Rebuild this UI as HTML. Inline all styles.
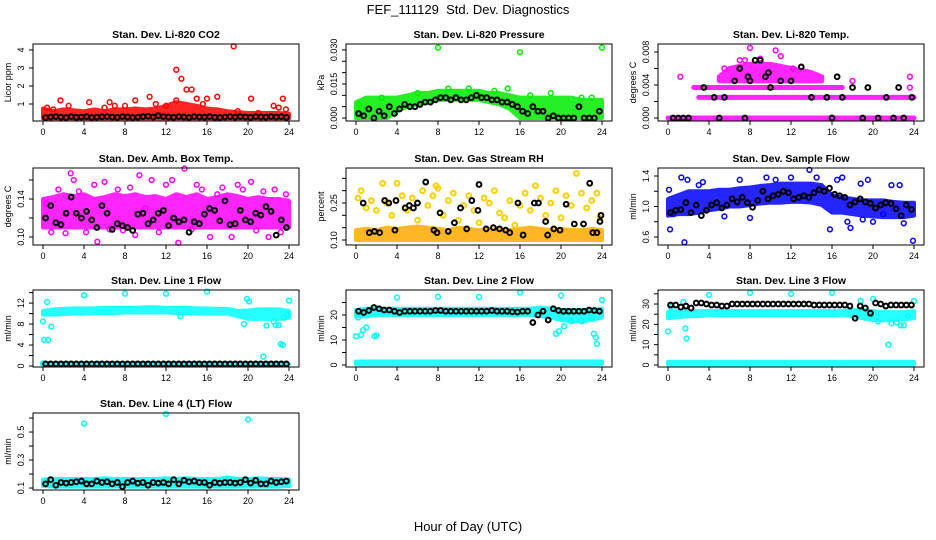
<!DOCTYPE html>
<html><head><meta charset="utf-8">
<style>
html,body{margin:0;padding:0;background:#fff;}
svg{display:block;font-family:"Liberation Sans",Arial,sans-serif;}
</style></head>
<body>
<svg id="chart" width="936" height="540" viewBox="0 0 936 540">
<text x="468" y="14" text-anchor="middle" font-size="13">FEF_111129&#160; Std. Dev. Diagnostics</text>
<text x="468" y="531" text-anchor="middle" font-size="13">Hour of Day (UTC)</text>
</svg>
<script>
// ---------- shared data ----------
const HOURS=[0,1,2,3,4,5,6,7,8,9,10,11,12,13,14,15,16,17,18,19,20,21,22,23,24];
const HALF=[0.25,0.75,1.25,1.75,2.25,2.75,3.25,3.75,4.25,4.75,5.25,5.75,6.25,6.75,7.25,7.75,8.25,8.75,9.25,9.75,10.25,10.75,11.25,11.75,12.25,12.75,13.25,13.75,14.25,14.75,15.25,15.75,16.25,16.75,17.25,17.75,18.25,18.75,19.25,19.75,20.25,20.75,21.25,21.75,22.25,22.75,23.25,23.75];
const xTickValues=[0,4,8,12,16,20,24];
const xTickLabels=["0","4","8","12","16","20","24"];

// P1 CO2
const co2Lo=[0.2,0.2,0.2,0.2,0.2,0.2,0.2,0.2,0.2,0.2,0.2,0.2,0.2,0.2,0.2,0.2,0.2,0.2,0.2,0.2,0.2,0.2,0.2,0.2,0.2];
const co2Hi=[0.75,0.6,0.7,0.65,0.6,0.7,0.6,0.7,0.7,0.75,0.7,0.75,0.9,1.1,1.0,0.9,0.75,0.7,0.6,0.55,0.5,0.5,0.5,0.5,0.45];
const co2RedX=[0.4,1.0,1.7,2.5,4.5,6,6.5,7,8,9,10.4,11,12,13,13.5,13,14,14.5,15,15.6,16,17,18.6,19,20.3,21,22.5,23,23.4,23.7];
const co2RedY=[0.8,0.7,1.2,0.9,1.1,0.8,1.1,0.9,0.9,1.2,1.4,1.0,0.9,2.9,2.4,1.2,1.8,1.8,1.3,1.0,1.3,1.4,4.2,0.6,1.3,0.5,0.9,0.8,1.3,0.7];
const co2Black=[0.25,0.28,0.3,0.27,0.25,0.3,0.26,0.28,0.3,0.25,0.27,0.29,0.3,0.28,0.26,0.3,0.28,0.25,0.27,0.3,0.32,0.28,0.35,0.3,0.28,0.26,0.3,0.28,0.25,0.3,0.28,0.27,0.3,0.26,0.25,0.28,0.3,0.27,0.3,0.28,0.26,0.3,0.28,0.27,0.3,0.28,0.3,0.26];
const co2Ticks=[1,2,3,4];

// P2 Pressure
const pressLo=[0.000,0.000,0.000,0.000,0.003,0.005,0.006,0.007,0.008,0.008,0.008,0.008,0.008,0.007,0.006,0.004,0.000,0.000,0.000,0.000,0.000,0.000,0.000,0.000,0.000];
const pressHi=[0.007,0.009,0.009,0.009,0.009,0.010,0.011,0.011,0.012,0.012,0.012,0.012,0.012,0.011,0.011,0.010,0.009,0.009,0.009,0.009,0.009,0.009,0.008,0.008,0.008];
const pressGreenX=[8,16,24,0.3,1,2.5,6,9,11,13.5,14.8,17,19,22,23];
const pressGreenY=[0.031,0.029,0.031,0.006,0.004,0.009,0.011,0.013,0.013,0.012,0.013,0.010,0.011,0.009,0.009];
const pressBlack=[0.002,0.001,0.004,0.000,0.003,0.001,0.005,0.002,0.004,0.006,0.005,0.005,0.006,0.007,0.007,0.008,0.009,0.009,0.008,0.009,0.008,0.008,0.009,0.010,0.009,0.009,0.008,0.008,0.007,0.007,0.006,0.005,0.003,0.002,0.005,0.003,0.003,0.000,0.001,0.000,0.000,0.000,0.000,0.005,0.000,0.000,0.000,0.003];
const pressTicks=[0,0.005,0.010,0.015,0.020,0.025,0.030];
const pressTickLabels=["0.000","","","0.015","","","0.030"];

// P3 Temp
const tempRow0X=[0,24], tempRow0Y=[0,0];
const tempRow1X=[3,24], tempRow1Y=[0.0025,0.0025];
const tempRow2X=[2.5,17], tempRow2Y=[0.0037,0.0037];
const tempCloudX=[5,6,8,10,12,14,15];
const tempCloudLo=[0.0045,0.0045,0.0045,0.0045,0.0045,0.0045,0.0045];
const tempCloudHi=[0.005,0.006,0.0065,0.0065,0.006,0.0055,0.005];
const tempMagX=[1.2,5.5,7,7.5,8,9,10.5,11,12.2,18,23.6,23.6,17];
const tempMagY=[0.005,0.006,0.007,0.007,0.0085,0.0072,0.0082,0.0075,0.006,0.0045,0.005,0.0037,0.0025];
const tempBlackX=[0.5,1,1.5,2,3.5,4.5,5,5.5,6.5,7,7.5,7.8,8,8.5,9,9.5,9.8,10,11,12,13,14,15.5,16,16.5,17,18,19,19.5,20.5,21.3,22,22.5,23,23.8];
const tempBlackY=[0,0,0,0,0.0037,0.0025,0,0.0025,0.0045,0.006,0,0.005,0.0045,0.007,0.007,0.005,0.0055,0.0037,0.0045,0.0045,0.0062,0.0025,0.0025,0,0.005,0.0025,0.0037,0,0.0037,0,0.0025,0,0.0037,0,0.0025];
const tempTicks=[0,0.002,0.004,0.006,0.008];
const tempTickLabels=["0.000","","0.004","","0.008"];

// P4 Amb box
const ambLo=[0.11,0.11,0.11,0.11,0.11,0.11,0.11,0.11,0.11,0.11,0.11,0.11,0.11,0.11,0.11,0.11,0.11,0.11,0.11,0.11,0.11,0.11,0.11,0.11,0.11];
const ambHi=[0.14,0.142,0.145,0.143,0.145,0.14,0.142,0.145,0.143,0.145,0.142,0.143,0.14,0.145,0.142,0.145,0.14,0.142,0.145,0.143,0.14,0.142,0.14,0.14,0.138];
const ambMagX=[0.3,0.8,1.5,2.2,2.7,3,3.5,4.2,5,5.3,6,6.5,7.3,7.8,8.5,9,9.4,10,10.6,11.3,12,12.6,13.2,13.8,14.5,15,15.5,16.3,17,17.5,18.4,19,19.5,20.3,20.8,21.5,22,22.6,23.2,23.7];
const ambMagY=[0.135,0.105,0.15,0.104,0.167,0.16,0.148,0.105,0.155,0.095,0.158,0.108,0.15,0.107,0.152,0.102,0.165,0.13,0.16,0.105,0.155,0.16,0.094,0.172,0.108,0.155,0.15,0.1,0.145,0.152,0.1,0.155,0.15,0.158,0.107,0.148,0.1,0.15,0.105,0.145];
const ambBlack=[0.12,0.133,0.115,0.113,0.125,0.142,0.125,0.12,0.127,0.118,0.11,0.133,0.125,0.108,0.114,0.112,0.11,0.107,0.124,0.125,0.114,0.118,0.125,0.128,0.112,0.12,0.116,0.118,0.105,0.116,0.114,0.124,0.13,0.128,0.117,0.138,0.113,0.114,0.128,0.118,0.116,0.125,0.123,0.132,0.127,0.102,0.118,0.11];
const ambTicks=[0.10,0.12,0.14,0.16];
const ambTickLabels=["0.10","","0.14",""];

// P5 RH
const rhLo=[0.10,0.10,0.10,0.10,0.10,0.10,0.10,0.10,0.10,0.10,0.10,0.10,0.10,0.10,0.10,0.10,0.10,0.10,0.10,0.10,0.10,0.10,0.10,0.10,0.10];
const rhHi=[0.14,0.145,0.14,0.15,0.145,0.15,0.155,0.15,0.145,0.14,0.15,0.145,0.14,0.145,0.14,0.14,0.145,0.15,0.145,0.14,0.145,0.14,0.14,0.145,0.14];
const rhYelX=[0.2,0.5,1,1.5,2,2.6,3,3.5,4,4.5,5,5.5,6,6.5,7,7.5,8,8.5,9,9.5,10,10.5,11,11.5,12,12.5,13,13.5,14,14.5,15,15.5,16,16.5,17,17.5,18,18.5,19,19.5,20,20.5,21,21.5,22,22.5,23,23.5,23.8,7.8];
const rhYelY=[0.27,0.3,0.23,0.26,0.22,0.33,0.25,0.2,0.33,0.28,0.22,0.27,0.18,0.3,0.24,0.28,0.31,0.2,0.26,0.29,0.18,0.24,0.28,0.22,0.17,0.27,0.25,0.3,0.21,0.19,0.26,0.16,0.24,0.29,0.22,0.32,0.27,0.2,0.25,0.3,0.19,0.28,0.24,0.37,0.29,0.23,0.26,0.29,0.19,0.32];
const rhBlackX=[0.7,1.3,1.8,2.3,2.8,3.2,3.8,3.9,4.8,5.2,5.6,6,6.8,7.6,7.9,8.2,9,9.6,10.2,10.8,11.3,11.9,12,12.7,13.4,14,14.6,15,15.8,16.3,17.4,17.8,18.5,18.7,19.3,19.9,20.5,21.3,22.2,22.8,23.1,23.5,23.8,23.9];
const rhBlackY=[0.25,0.13,0.135,0.13,0.26,0.25,0.14,0.26,0.23,0.24,0.23,0.25,0.335,0.14,0.13,0.21,0.135,0.17,0.23,0.145,0.26,0.22,0.325,0.145,0.15,0.145,0.14,0.13,0.25,0.12,0.25,0.25,0.175,0.12,0.145,0.14,0.245,0.165,0.165,0.33,0.13,0.13,0.175,0.2];
const rhTicks=[0.10,0.15,0.20,0.25,0.30,0.35];
const rhTickLabels=["0.10","","","0.25","",""];

// P6 Sample flow
const flowLo=[0.88,0.9,0.9,0.92,0.95,0.97,1.0,1.0,1.02,1.04,1.05,1.05,1.06,1.06,1.05,1.02,0.92,0.92,0.9,0.88,0.87,0.86,0.86,0.86,0.88];
const flowHi=[1.1,1.15,1.2,1.2,1.2,1.22,1.22,1.24,1.25,1.27,1.28,1.3,1.3,1.3,1.3,1.28,1.15,1.12,1.1,1.08,1.08,1.08,1.06,1.05,1.05];
const flowBlueX=[0.1,0.2,0.5,1.3,1.6,1.9,3,3.4,5.5,7,8,9.6,10.5,12,13.8,14.5,15.8,16.5,17,17.5,17.8,18.8,19.5,20,21.8,22.6,23,23.9,21,19];
const flowBlueY=[1.22,0.7,0.9,1.38,0.53,1.35,1.28,1.32,0.87,1.35,0.85,1.38,1.35,1.38,1.48,1.38,0.7,1.35,1.38,0.8,0.72,1.3,1.35,0.8,1.28,1.28,0.78,0.55,0.9,0.83];
const flowBlack=[0.92,0.95,0.96,1.05,0.92,1.02,0.88,0.95,1.02,1.05,0.98,1.02,1.1,1.06,1.12,1.05,0.99,1.08,1.2,1.1,1.14,1.16,1.2,1.18,1.1,1.12,1.14,1.12,1.18,1.22,1.2,1.24,1.16,1.14,1.12,1.02,1.06,1.1,1.06,1.04,0.98,1.02,1.05,1.04,0.97,0.88,1.02,0.96];
const flowTicks=[0.6,0.8,1.0,1.2,1.4];
const flowTickLabels=["0.6","","1.0","","1.4"];

// P7 Line 1
const l1Lo=[9.8,9.8,9.9,10,10,10.1,10.1,10.1,10.2,10.2,10.2,10.2,10.2,10.1,10.1,10,10,10,10,9.5,9,9,9,9,9.2];
const l1Hi=[10.5,10.8,10.9,11,11,11,11.1,11.1,11.1,11.1,11.2,11.2,11.1,11.1,11.1,11,11,10.9,10.9,10.5,10.6,10.8,10.8,10.8,10.5];
const l1ZeroX=[0,24], l1ZeroY=[0.3,0.3];
const l1CyanX=[0,0.1,0.4,0.5,0.8,4,8,12,13.4,16,19.6,19.9,20.1,21.5,21.8,22.5,22.7,23,23.2,23.4,23.5,23.8,24,0];
const l1CyanY=[8.5,5,12.2,5,7.5,13.5,13.8,13.8,9.5,14.2,8,12.8,12.3,1.8,7.7,8.5,7.8,7.8,4.2,4,9.2,9.8,12.5,0.5];
const l1Black=[0.4,0.4,0.4,0.4,0.4,0.4,0.4,0.4,0.4,0.4,0.4,0.4,0.4,0.4,0.4,0.4,0.4,0.4,0.4,0.4,0.4,0.4,0.4,0.4,0.4,0.4,0.4,0.4,0.4,0.4,0.4,0.4,0.4,0.4,0.4,0.4,0.4,0.4,0.4,0.4,0.4,0.4,0.4,0.4,0.4,0.4,0.4,0.4];
const l1Ticks=[0,2,4,6,8,10,12,14];
const l1TickLabels=["0","","4","","8","","12",""];

// P8 Line 2
const l2Lo=[19.5,19.5,20,20,20,20,20,20,20,20,20,20,20,20,20,20,20,20,19.5,19,18,17.5,17.5,18,19];
const l2Hi=[22,22.5,22.5,22.5,22.5,22.5,22.5,22.5,22.5,22.5,22.5,22.5,22.5,22.5,22.5,22.5,22.5,22.5,23,22.5,22,22,22,22,22.5];
const l2ZeroX=[0,24], l2ZeroLo=[0.3,0.3], l2ZeroHi=[1.4,1.4];
const l2CyanX=[0,0.2,0.5,0.7,1,1.8,2,4,8,12,16,19.5,19.8,20,20.3,21,22,23,23.2,23.4,23.5,24];
const l2CyanY=[11.5,19,12,14,15,11.5,11.8,27,27.3,27.2,29,12.5,13.5,27.8,15.5,17.5,17.5,19,12.5,11,8.5,26];
const l2Black=[21.5,21,21.8,23,22.5,22,22,21.5,21,21.5,21.5,21.5,21.5,21.5,21.5,21.8,21.8,21.5,21.5,21.5,21.5,21.5,21.5,21.5,21.5,21.5,21.8,21.5,21.5,21.5,21.3,21.2,21.5,21.5,17,20,21.5,18,22.5,21.8,21.5,21.5,21.5,21.5,21.5,22,21.8,21.5];
const l2Ticks=[0,5,10,15,20,25];
const l2TickLabels=["0","","10","","20",""];

// P9 Line 3
const l3Lo=[23,23.5,24,24,24.5,24.5,24.5,24.5,24.5,24.5,24.5,24.5,24.5,24.5,24.5,24.5,24.5,24.5,24,23,22,22,22,22.5,23];
const l3Hi=[26,26.5,26.5,26.5,26.5,26.5,26.5,26.5,26.5,26.5,26.5,26.5,26.5,26.5,26.5,26.5,26.5,26.5,27,27,26.5,26,26,26,26.5];
const l3ZeroX=[0,24], l3ZeroLo=[0.3,0.3], l3ZeroHi=[1.5,1.5];
const l3CyanX=[0,0.3,1.5,1.7,1.8,4,8,12,16,18.8,20,20.5,21.5,21.8,22.3,22.7,23,23.4,24,19.8];
const l3CyanY=[16.5,28.5,31,18,13,34.5,35.5,35,35.5,31.5,32.5,21.5,10,20.5,21,19.5,19.5,24,31.5,25];
const l3Black=[29.5,29.5,28.5,29,28,30.5,30.5,30,29.5,29.5,29,29,30,30,30,30,30,30,30,30,30,30,30,30,30,30,30,30,29.5,29.5,29.5,29.5,29.5,29.5,29.5,29,23,29,28,25.5,30.5,30,29,29.5,29.5,29.5,29.5,29.5];
const l3Ticks=[0,5,10,15,20,25,30,35];
const l3TickLabels=["0","","10","","20","","30",""];

// P10 Line 4
const l4Lo=[0.115,0.11,0.11,0.11,0.11,0.11,0.11,0.11,0.11,0.11,0.11,0.11,0.11,0.11,0.11,0.11,0.11,0.11,0.11,0.11,0.11,0.11,0.11,0.11,0.115];
const l4Hi=[0.16,0.165,0.165,0.165,0.165,0.165,0.17,0.165,0.165,0.165,0.165,0.165,0.17,0.165,0.17,0.165,0.165,0.165,0.175,0.165,0.165,0.17,0.165,0.165,0.16];
const l4CyanX=[4,12,20];
const l4CyanY=[0.56,0.63,0.59];
const l4Black=[0.13,0.16,0.12,0.14,0.135,0.14,0.145,0.15,0.13,0.13,0.15,0.14,0.145,0.13,0.14,0.11,0.14,0.15,0.135,0.14,0.12,0.14,0.135,0.14,0.13,0.16,0.13,0.155,0.145,0.15,0.14,0.14,0.12,0.14,0.135,0.14,0.14,0.135,0.14,0.16,0.135,0.155,0.13,0.13,0.15,0.14,0.145,0.15];
const l4Ticks=[0.1,0.2,0.3,0.4,0.5,0.6];
const l4TickLabels=["0.1","","0.3","","0.5",""];

// ---------- drawing ----------
const NS="http://www.w3.org/2000/svg";
const svg=document.getElementById('chart');
const FL=[33,346,658], FT=[44,168,290,413], FW=266, FH=77;
function mk(tag,attrs,parent){const e=document.createElementNS(NS,tag);for(const k in attrs)e.setAttribute(k,attrs[k]);(parent||svg).appendChild(e);return e;}

function drawPanel(cfg){
  const fl=FL[cfg.col], ft=FT[cfg.row], fb=ft+FH;
  const g=mk('g',{});
  
  
  const xs=h=>fl+10+h*(FW-20)/24;
  const ys=v=>fb-(v-cfg.ymin)/(cfg.ymax-cfg.ymin)*FH;
  const cid='clip-'+cfg.name;
  const cp=mk('clipPath',{id:cid},g);
  mk('rect',{x:fl,y:ft-3,width:FW,height:FH+6},cp);
  const pg=mk('g',{'clip-path':'url(#'+cid+')'},g);
  (cfg.bands||[]).forEach(b=>{
    const [X,Lo,Hi,col]=b;
    let pts=[];
    for(let i=0;i<X.length;i++)pts.push(xs(X[i])+','+ys(Hi[i]));
    for(let i=X.length-1;i>=0;i--)pts.push(xs(X[i])+','+ys(Lo[i]));
    const p=mk('polygon',{points:pts.join(' '),fill:col,stroke:col,'stroke-width':cfg.bandStroke||4,'stroke-linejoin':'round',opacity:0.85},pg);
    
    
  });
  (cfg.points||[]).forEach(s=>{
    const [X,Y,col,sw]=s;
    const n=Math.min(X.length,Y.length);
    for(let i=0;i<n;i++){
      const c=mk('circle',{cx:xs(X[i]),cy:ys(Y[i]),r:2.4,fill:'none',stroke:col,'stroke-width':sw||1.5},pg);
      
      
    }
  });
  const fr=mk('rect',{x:fl,y:ft,width:FW,height:FH,fill:'none',stroke:'#000','stroke-width':1},g);
  
  
  xTickValues.forEach((v,i)=>{
    mk('line',{x1:xs(v),x2:xs(v),y1:fb,y2:fb+4,stroke:'#000'},g);
    const t=mk('text',{x:xs(v),y:fb+14,'text-anchor':'middle','font-size':9},g);
    t.textContent=xTickLabels[i];
    
    
  });
  cfg.ticks.forEach((v,i)=>{
    mk('line',{x1:fl-4,x2:fl,y1:ys(v),y2:ys(v),stroke:'#000'},g);
    const lab=cfg.labels[i];
    if(lab){
      const t=mk('text',{x:0,y:0,'text-anchor':'middle','font-size':9,transform:'translate('+(fl-9)+','+ys(v)+') rotate(-90)'},g);
      t.textContent=lab;
      
      
    }
  });
  const yl=mk('text',{x:0,y:0,'text-anchor':'middle','font-size':9,transform:'translate('+(fl-22)+','+(ft+FH/2)+') rotate(-90)'},g);
  yl.textContent=cfg.ylab;
  
  
  const tt=mk('text',{x:fl+FW/2,y:ft-6,'text-anchor':'middle','font-size':10.5,'font-weight':'bold'},g);
  tt.textContent=cfg.title;
  
  
}

const RED='#ff0000',GRN='#00ee00',MAG='#ff00ff',BLU='#0000ff',CYN='#00ffff',BLK='#000000',ORG='#ffaa00',YEL='#ffd000';
drawPanel({name:'panel-co2',col:0,row:0,title:'Stan. Dev. Li-820 CO2',ylab:'Licor ppm',ymin:0.056,ymax:4.33,ticks:co2Ticks,labels:co2Ticks.map(String),
  bands:[[HOURS,co2Lo,co2Hi,RED]],points:[[co2RedX,co2RedY,RED],[HALF,co2Black,BLK,2]]});
drawPanel({name:'panel-pressure',col:1,row:0,title:'Stan. Dev. Li-820 Pressure',ylab:'kPa',ymin:-0.0013,ymax:0.0326,ticks:pressTicks,labels:pressTickLabels,
  bands:[[HOURS,pressLo,pressHi,GRN]],points:[[pressGreenX,pressGreenY,GRN],[HALF,pressBlack,BLK,2]]});
drawPanel({name:'panel-temp',col:2,row:0,title:'Stan. Dev. Li-820 Temp.',ylab:'degrees C',ymin:-0.00036,ymax:0.00897,ticks:tempTicks,labels:tempTickLabels,bandStroke:5,
  bands:[[tempRow0X,tempRow0Y,tempRow0Y,MAG],[tempRow1X,tempRow1Y,tempRow1Y,MAG],[tempRow2X,tempRow2Y,tempRow2Y,MAG],[tempCloudX,tempCloudLo,tempCloudHi,MAG]],
  points:[[tempMagX,tempMagY,MAG],[tempBlackX,tempBlackY,BLK,2]]});
drawPanel({name:'panel-amb-box-temp',col:0,row:1,title:'Stan. Dev. Amb. Box Temp.',ylab:'degrees C',ymin:0.0916,ymax:0.1726,ticks:ambTicks,labels:ambTickLabels,
  bands:[[HOURS,ambLo,ambHi,MAG]],points:[[ambMagX,ambMagY,MAG],[HALF,ambBlack,BLK,2]]});
drawPanel({name:'panel-gas-rh',col:1,row:1,title:'Stan. Dev. Gas Stream RH',ylab:'percent',ymin:0.0797,ymax:0.392,ticks:rhTicks,labels:rhTickLabels,
  bands:[[HOURS,rhLo,rhHi,ORG]],points:[[rhYelX,rhYelY,YEL,2],[rhBlackX,rhBlackY,BLK,2]]});
drawPanel({name:'panel-sample-flow',col:2,row:1,title:'Stan. Dev. Sample Flow',ylab:'ml/min',ymin:0.495,ymax:1.505,ticks:flowTicks,labels:flowTickLabels,
  bands:[[HOURS,flowLo,flowHi,BLU]],points:[[flowBlueX,flowBlueY,BLU],[HALF,flowBlack,BLK,2]]});
drawPanel({name:'panel-line1-flow',col:0,row:2,title:'Stan. Dev. Line 1 Flow',ylab:'ml/min',ymin:-0.19,ymax:14.5,ticks:l1Ticks,labels:l1TickLabels,
  bands:[[HOURS,l1Lo,l1Hi,CYN],[l1ZeroX,l1ZeroY,l1ZeroY,CYN]],points:[[l1CyanX,l1CyanY,CYN],[HALF,l1Black,BLK,2]]});
drawPanel({name:'panel-line2-flow',col:1,row:2,title:'Stan. Dev. Line 2 Flow',ylab:'ml/min',ymin:-0.8,ymax:30,ticks:l2Ticks,labels:l2TickLabels,
  bands:[[HOURS,l2Lo,l2Hi,CYN],[l2ZeroX,l2ZeroLo,l2ZeroHi,CYN]],points:[[l2CyanX,l2CyanY,CYN],[HALF,l2Black,BLK,2]]});
drawPanel({name:'panel-line3-flow',col:2,row:2,title:'Stan. Dev. Line 3 Flow',ylab:'ml/min',ymin:-1,ymax:36.9,ticks:l3Ticks,labels:l3TickLabels,
  bands:[[HOURS,l3Lo,l3Hi,CYN],[l3ZeroX,l3ZeroLo,l3ZeroHi,CYN]],points:[[l3CyanX,l3CyanY,CYN],[HALF,l3Black,BLK,2]]});
drawPanel({name:'panel-line4-flow',col:0,row:3,title:'Stan. Dev. Line 4 (LT) Flow',ylab:'ml/min',ymin:0.086,ymax:0.636,ticks:l4Ticks,labels:l4TickLabels,
  bands:[[HOURS,l4Lo,l4Hi,CYN]],points:[[l4CyanX,l4CyanY,CYN],[HALF,l4Black,BLK,2]]});
</script>
</body></html>
